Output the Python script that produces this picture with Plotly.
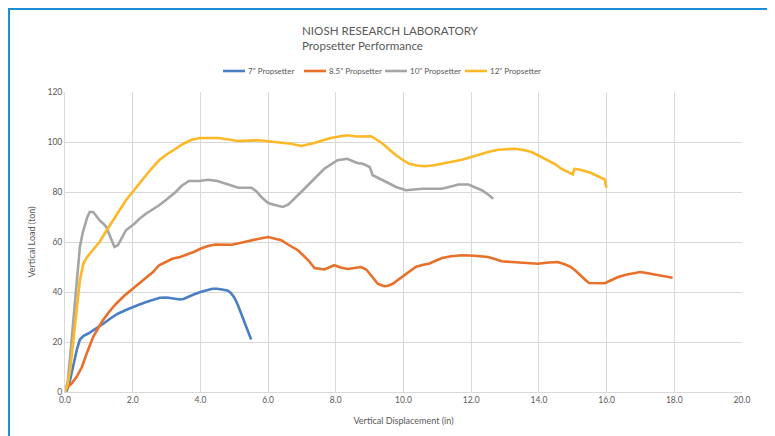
import plotly.graph_objects as go

# ---- data ----
x7 = [0, 0.05, 0.12, 0.2, 0.28, 0.36, 0.44, 0.55, 0.7, 0.85, 1.0, 1.15, 1.35, 1.56, 1.8, 2.0, 2.2, 2.4, 2.6, 2.8,
      3.0, 3.2, 3.4, 3.5, 3.65, 3.8, 4.0, 4.2, 4.35, 4.5, 4.65, 4.8, 4.9, 5.0, 5.1, 5.2, 5.3, 5.4, 5.5]
y7 = [0, 0.5, 3, 8, 13, 17.5, 21, 22.5, 23.5, 24.8, 26, 27.5, 29.5, 31.3, 32.8, 34, 35, 36, 37, 37.7,
      37.8, 37.3, 37, 37.2, 38.2, 39, 40, 40.7, 41.3, 41.3, 41, 40.6, 39.6, 37.8, 35, 31.5, 27.5, 24, 21]

x85 = [0, 0.1, 0.2, 0.34, 0.5, 0.63, 0.83, 1.0, 1.12, 1.3, 1.51, 1.75, 2.0, 2.2, 2.39, 2.6, 2.78, 3.0, 3.17, 3.4,
       3.56, 3.8, 4.0, 4.2, 4.44, 4.7, 4.93, 5.2, 5.41, 5.7, 6.0, 6.2, 6.39, 6.6, 6.88, 7.05, 7.2, 7.37, 7.5, 7.66,
       7.8, 7.95, 8.15, 8.34, 8.5, 8.75, 8.9, 9.0, 9.12, 9.24, 9.43, 9.55, 9.68, 9.85, 10.02, 10.2, 10.36, 10.55,
       10.75, 10.95, 11.14, 11.4, 11.73, 12.1, 12.5, 12.7, 12.9, 13.2, 13.58, 13.97, 14.29, 14.56, 14.78, 14.95,
       15.1, 15.24, 15.36, 15.48, 15.7, 15.95, 16.1, 16.34, 16.6, 16.83, 17.0, 17.22, 17.4, 17.61, 17.8, 17.95]
y85 = [1, 2.2, 3.5, 6, 10, 15, 22, 26, 28.7, 32, 35.3, 38.5, 41.3, 43.3, 45.3, 48, 50.7, 52, 53.3, 54,
       54.7, 56, 57.3, 58.3, 59, 58.8, 58.9, 59.7, 60.4, 61.2, 62, 61.4, 60.7, 58.9, 56.7, 54.5, 52.5, 49.6, 49.3, 49,
       49.8, 50.7, 49.8, 49.2, 49.5, 50, 49, 47.3, 45.2, 43.3, 42.3, 42.5, 43.3, 45, 46.7, 48.5, 50, 50.8,
       51.3, 52.5, 53.6, 54.3, 54.7, 54.5, 54, 53.2, 52.3, 52, 51.7, 51.3, 51.8, 52, 51, 50,
       48.3, 46.4, 45, 43.6, 43.5, 43.5, 44.5, 46, 47, 47.7, 48, 47.5, 47, 46.4, 46, 45.7]

x10 = [0, 0.08, 0.15, 0.22, 0.29, 0.36, 0.44, 0.52, 0.59, 0.66, 0.73, 0.83, 0.92, 1.02, 1.12, 1.22, 1.34, 1.46,
       1.56, 1.68, 1.8, 2.05, 2.2, 2.39, 2.6, 2.78, 3.0, 3.27, 3.45, 3.66, 3.95, 4.24, 4.5, 4.73, 5.12, 5.51, 5.65,
       5.8, 6.0, 6.2, 6.44, 6.6, 6.78, 7.0, 7.27, 7.5, 7.66, 8.05, 8.34, 8.63, 8.8, 9.0, 9.09, 9.39, 9.78, 10.07,
       10.56, 11.14, 11.63, 11.92, 12.31, 12.5, 12.65]
y10 = [0, 4, 14, 24, 35.3, 47, 58, 63.5, 67.3, 70, 72, 72, 70.5, 68.7, 67.5, 66, 62, 58,
       58.7, 61.5, 64.7, 67.3, 69.3, 71.3, 73, 74.7, 77, 80, 82.5, 84.4, 84.4, 84.9, 84.4, 83.3, 81.7, 81.7, 80.3,
       78, 75.6, 74.8, 74, 75, 77.3, 80.3, 84, 87, 89.3, 92.7, 93.3, 91.6, 91.3, 90, 86.7, 84.7, 82, 80.7,
       81.3, 81.3, 83, 83, 80.7, 79, 77.3]

x12 = [0, 0.08, 0.15, 0.22, 0.29, 0.36, 0.44, 0.54, 0.63, 0.73, 0.87, 1.02, 1.2, 1.41, 1.6, 1.8, 2.05, 2.29, 2.55,
       2.78, 3.0, 3.27, 3.5, 3.76, 4.0, 4.54, 5.12, 5.71, 6.2, 6.68, 6.98, 7.15, 7.37, 7.6, 7.85, 8.1, 8.34, 8.63,
       9.04, 9.2, 9.39, 9.58, 9.78, 9.98, 10.17, 10.4, 10.65, 10.9, 11.14, 11.45, 11.73, 12.0, 12.31, 12.55, 12.8,
       13.05, 13.29, 13.55, 13.78, 14.0, 14.27, 14.5, 14.66, 14.85, 15.0, 15.02, 15.05, 15.2, 15.37, 15.55, 15.7,
       15.85, 15.95, 15.97, 16.0]
y12 = [0, 3, 8.7, 18, 27.3, 36, 44.7, 51.3, 53.5, 55.3, 57.5, 60, 64, 68.7, 72.5, 76.7, 81, 85.3, 89.3,
       92.7, 95, 97.3, 99.3, 101, 101.6, 101.6, 100.4, 100.7, 100, 99.3, 98.4, 98.8, 99.6, 100.6, 101.6, 102.2, 102.7, 102.2,
       102.3, 101, 99.3, 97, 94.7, 92.8, 91.3, 90.6, 90.3, 90.7, 91.3, 92, 92.9, 94, 95.3, 96.2, 96.9,
       97.2, 97.3, 96.8, 96, 94.5, 92.7, 91, 89.3, 88, 87, 88, 89.2, 89, 88.4, 87.6, 86.6,
       85.8, 85, 83, 81.7]

series_names = ['7" Propsetter', '8.5" Propsetter', '10" Propsetter', '12" Propsetter']
series_x = [x7, x85, x10, x12]
series_y = [y7, y85, y10, y12]
colors = ["#4a7fc4", "#e8702a", "#a5a5a5", "#fdb827"]

title_lines = ["NIOSH RESEARCH LABORATORY", "Propsetter Performance"]
x_title = "Vertical Displacement (in)"
y_title = "Vertical Load (ton)"
x_ticks = list(range(0, 21, 2))
y_ticks = list(range(0, 121, 20))

FONT = "Lato, 'Open Sans', sans-serif"
TXT = "#595959"

# plot-area geometry (page pixels; the page body adds an 8px offset)
PL, PW, PT, PH = 65, 677, 92, 300
def px(p):  # page x -> paper x
    return (p - PL) / PW
def py(p):  # page y -> paper y
    return (PT + PH - p) / PH

fig = go.Figure()
for name, xs, ys, c in zip(series_names, series_x, series_y, colors):
    fig.add_trace(go.Scatter(x=xs, y=ys, mode="lines", name=name, showlegend=False,
                             line=dict(color=c, width=2.6)))

fig.update_layout(
    width=767, height=428,
    margin=dict(l=57, r=33, t=84, b=44, autoexpand=False),
    paper_bgcolor="white", plot_bgcolor="white",
    font=dict(family=FONT, color=TXT, size=9),
    xaxis=dict(range=[0, 20], tickmode="array", tickvals=x_ticks,
               ticktext=[f"{v:.1f}" for v in x_ticks], automargin=False,
               showgrid=True, gridcolor="#d9d9d9", gridwidth=1, zeroline=False,
               showline=True, linecolor="#d9d9d9", ticks="", ticklen=0,
               tickfont=dict(size=8.5, color=TXT),
               title=dict(text=x_title, font=dict(size=9, color=TXT), standoff=13)),
    yaxis=dict(range=[0, 120], tickmode="array", tickvals=y_ticks, automargin=False,
               showgrid=True, gridcolor="#d9d9d9", gridwidth=1, zeroline=False,
               showline=True, linecolor="#d9d9d9", ticks="", ticklen=0,
               tickfont=dict(size=8.5, color=TXT),
               title=dict(text=y_title, font=dict(size=9, color=TXT), standoff=10)),
)

# legend drawn as layout decoration, positioned like the reference
legend_starts = [223, 304, 385, 465]
for name, c, s in zip(series_names, colors, legend_starts):
    fig.add_shape(type="line", xref="paper", yref="paper", x0=px(s), x1=px(s + 22),
                  y0=py(71), y1=py(71), line=dict(color=c, width=2.6))
    fig.add_annotation(xref="paper", yref="paper", x=px(s + 23), y=py(71), xanchor="left",
                       yanchor="middle", text=name, showarrow=False,
                       font=dict(size=8, color=TXT, family=FONT))

fig.add_annotation(xref="paper", yref="paper", x=px(300), y=py(22), xanchor="left", yanchor="top",
                   text="<br>".join(title_lines), showarrow=False, align="left",
                   font=dict(size=11.6, color=TXT, family=FONT))

# blue frame around the chart
fig.add_shape(type="rect", xref="paper", yref="paper", x0=px(9), x1=px(770), y0=py(460), y1=py(9),
              line=dict(color="#1b8fd8", width=2), layer="above")

fig.write_html("out.html")
